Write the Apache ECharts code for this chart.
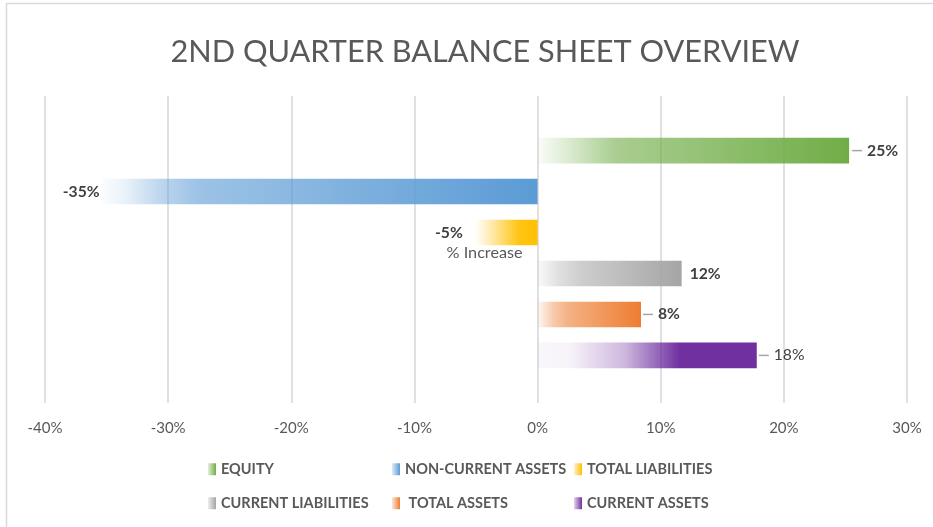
<!DOCTYPE html>
<html><head><meta charset="utf-8">
<script src="https://cdn.jsdelivr.net/npm/echarts@6/dist/echarts.min.js"></script>
<style>html,body{margin:0;padding:0;background:#fff}#c{width:933px;height:527px}</style>
</head><body><div id="c"></div>
<script>
// ---- data ----
const chartTitle = '2ND QUARTER BALANCE SHEET OVERVIEW';
const categories = ['% Increase'];
const seriesNames = ['EQUITY', 'NON-CURRENT ASSETS', 'TOTAL LIABILITIES', 'CURRENT LIABILITIES', 'TOTAL ASSETS', 'CURRENT ASSETS'];
const values = [25.3, -35.4, -5.1, 11.7, 8.4, 17.8];
const xTicks = [-40, -30, -20, -10, 0, 10, 20, 30];

// ---- styles ----
const FONT = 'Lato, "Liberation Sans", sans-serif';
const mctx = document.createElement('canvas').getContext('2d');
function fit(text, weight, target) {
  mctx.font = weight + ' 100px ' + FONT;
  return Math.round(100 * target / mctx.measureText(text).width * 10) / 10;
}
const titleSize = fit(chartTitle, 'normal', 630);
const legendSize = fit('CURRENT LIABILITIES', 'bold', 148);
const tickSize = fit('-40%', 'normal', 35);
const valSize = fit('25%', 'bold', 31);
const catSize = fit('% Increase', 'normal', 76);

const colors = ['112,173,71', '91,155,213', '255,192,0', '165,165,165', '237,125,49', '112,48,160'];
// alpha stops measured from the zero end of each bar toward its tip
const alphaStops = [
  [[0, 0.03], [0.1, 0.25], [0.25, 0.6], [1, 1]],
  [[0, 1], [0.78, 0.6], [0.86, 0.42], [0.95, 0.12], [1, 0.02]],
  [[0, 1], [0.3, 0.92], [0.75, 0.3], [1, 0]],
  [[0, 0.06], [0.15, 0.35], [0.3, 0.55], [1, 1]],
  [[0, 0.05], [0.15, 0.4], [0.3, 0.6], [1, 1]],
  [[0, 0.04], [0.15, 0.06], [0.4, 0.35], [0.65, 1], [1, 1]]
];
const leader = [true, false, false, false, true, true];
const boldLabel = [true, true, true, true, true, false];
const labelDist = [3, 2, 12, 8, 2, 2];

function grad(i, neg) {
  return {
    type: 'linear', x: neg ? 1 : 0, y: 0, x2: neg ? 0 : 1, y2: 0,
    colorStops: alphaStops[i].map(s => ({ offset: s[0], color: 'rgba(' + colors[i] + ',' + s[1] + ')' }))
  };
}
function legendGrad(i) {
  return { type: 'linear', x: 0, y: 0, x2: 1, y2: 0,
    colorStops: [{ offset: 0, color: 'rgba(' + colors[i] + ',0.2)' }, { offset: 1, color: 'rgba(' + colors[i] + ',1)' }] };
}

const xMin = xTicks[0], xMax = xTicks[xTicks.length - 1], xStep = xTicks[1] - xTicks[0];
const gridLeft = 45, gridRight = 26, chartW = 933;
const plotW = chartW - gridLeft - gridRight;
const zeroOffset = (0 - xMin) / (xMax - xMin) * plotW;   // move category axis onto x = 0

const series = seriesNames.map((name, i) => {
  const neg = values[i] < 0;
  return {
    name: name, type: 'bar', xAxisIndex: 1, yAxisIndex: 1,
    data: [values[i]],
    barWidth: 25.6, barGap: '60%',
    itemStyle: { color: grad(i, neg) },
    label: {
      show: true,
      position: neg ? 'left' : 'right',
      distance: labelDist[i],
      formatter: p => (leader[i] ? '{ln|}' : '') + '{v|' + Math.round(p.value) + '%}',
      rich: {
        ln: { width: 10, height: 1.5, backgroundColor: '#a6a6a6' },
        v: { fontFamily: FONT, fontSize: valSize, fontWeight: boldLabel[i] ? 'bold' : 'normal', color: '#404040', padding: [0, 0, 0, leader[i] ? 5 : 0] }
      }
    }
  };
});

// legend: 3 columns x 2 rows
const legCols = [208, 392, 574];
const legRows = [469, 503];
const legends = seriesNames.map((name, i) => ({
  left: legCols[i % 3], top: legRows[Math.floor(i / 3)] - Math.max(12, legendSize) / 2,
  padding: 0,
  icon: 'rect', itemWidth: 8, itemHeight: 12,
  data: [{ name: name, itemStyle: { color: legendGrad(i) } }],
  formatter: n => (n === 'TOTAL ASSETS' ? ' ' + n : n),
  selectedMode: false,
  textStyle: { fontFamily: FONT, fontSize: legendSize, fontWeight: 'bold', color: '#595959' }
}));

const chart = echarts.init(document.getElementById('c'), null, { renderer: 'canvas' });
chart.setOption({
  animation: false,
  backgroundColor: '#fff',
  title: {
    text: chartTitle, left: 480, top: 49 - titleSize * 0.58, textAlign: 'center',
    textStyle: { fontFamily: FONT, fontSize: titleSize, fontWeight: 'normal', color: '#595959' }
  },
  graphic: [{
    type: 'rect', shape: { x: 6.5, y: 3.5, width: 1000, height: 600 },
    style: { fill: 'none', stroke: '#d9d9d9', lineWidth: 1.5 }, silent: true, z: -1
  }],
  legend: legends,
  grid: [
    { left: gridLeft, right: gridRight, top: 96, bottom: 124, outerBoundsMode: 'none', containLabel: false },
    { left: gridLeft, right: gridRight, top: 96, bottom: 117, outerBoundsMode: 'none', containLabel: false }
  ],
  xAxis: [
    { type: 'value', gridIndex: 0, min: xMin, max: xMax, interval: xStep,
      axisLine: { show: false }, axisTick: { show: false },
      splitLine: { show: true, lineStyle: { color: '#d6d6d6', width: 1.5 } },
      axisLabel: { formatter: '{value}%', margin: 18, fontFamily: FONT, fontSize: tickSize, color: '#595959' } },
    { type: 'value', gridIndex: 1, min: xMin, max: xMax, interval: xStep, show: false }
  ],
  yAxis: [
    { type: 'category', gridIndex: 0, data: categories, show: false },
    { type: 'category', gridIndex: 1, data: categories, position: 'left', offset: -zeroOffset,
      axisLine: { show: false, onZero: false },
      axisTick: { show: false }, splitLine: { show: false },
      axisLabel: { margin: 15, fontFamily: FONT, fontSize: catSize, color: '#595959', padding: [0, 0, 6, 0] } }
  ],
  series: series
});
</script>
</body></html>
